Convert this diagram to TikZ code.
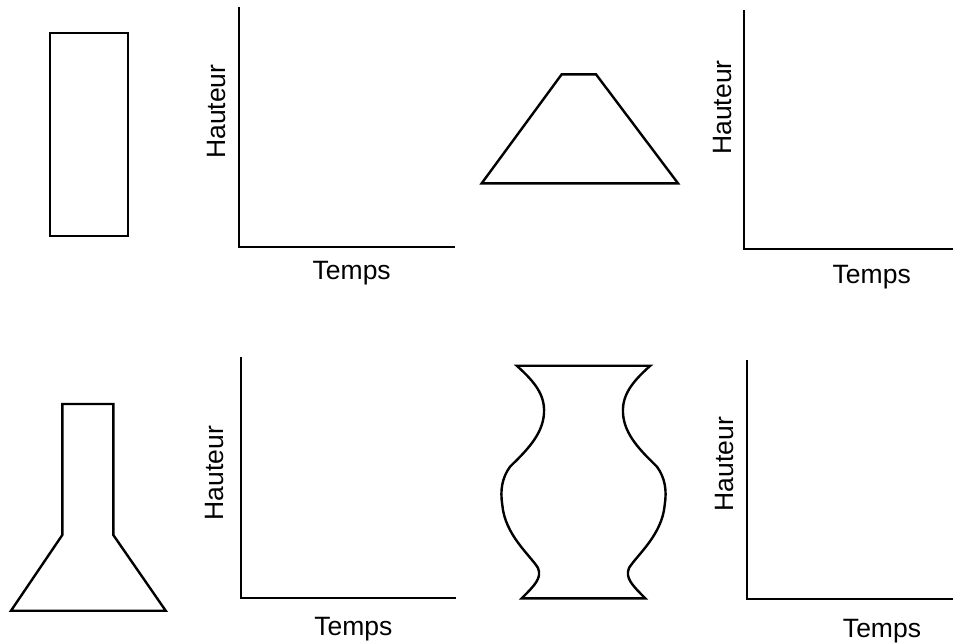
\documentclass[tikz,border=0pt]{standalone}
\usepackage{fontspec}
\setmainfont{Liberation Sans}
\begin{document}
\begin{tikzpicture}[x=1pt,y=-1pt,
  shape line/.style={line width=2.4pt, line join=miter},
  axis line/.style={line width=2.3pt},
  lab/.style={font=\fontsize{26.5}{30}\selectfont, inner sep=0pt, anchor=base},
  vlab/.style={lab, rotate=90}]
\useasboundingbox (0,0) rectangle (953,643);
% container 1: rectangle
\draw[shape line] (50,32.7) rectangle (127.7,236);
% graph 1
\draw[axis line] (239.3,6.7) -- (239.3,247.3) -- (455,247.3);
\node[vlab] (h1) at (225,111.7) {Hauteur};
\node[lab] (t1) at (351.7,279.3) {Temps};
% container 2: trapezoid
\draw[shape line] (561.7,74.3) -- (596,74.3) -- (678,183.3) -- (481.7,183.3) -- cycle;
% graph 2
\draw[axis line] (744,10) -- (744,249.3) -- (953,249.3);
\node[vlab] (h2) at (731.7,107.5) {Hauteur};
\node[lab] (t2) at (871.7,283.3) {Temps};
% container 3: flask
\draw[shape line] (62.3,404) -- (113.3,404) -- (113.3,535) -- (165.7,610.7) -- (11,610.7) -- (62.3,535) -- cycle;
% graph 3
\draw[axis line] (240.7,357.3) -- (240.7,598.3) -- (456,598.3);
\node[vlab] (h3) at (223.3,473) {Hauteur};
\node[lab] (t3) at (353.3,635) {Temps};
% container 4: vase
\draw[shape line] (516.7,365.7) -- (650.3,365.7)
  .. controls (632,382) and (622,395) .. (623,413)
  .. controls (624,435) and (642,452) .. (657,466.7)
  .. controls (665,478) and (667,490) .. (664.7,505)
  .. controls (662,535) and (637,555) .. (629,568)
  .. controls (625,578) and (632,585) .. (645.3,598.3)
  -- (521.7,598.3)
  .. controls (535,585) and (542,578) .. (538,568)
  .. controls (530,555) and (505,535) .. (502.3,505)
  .. controls (500,490) and (502,478) .. (510,466.7)
  .. controls (525,452) and (543,435) .. (544,413)
  .. controls (545,395) and (535,382) .. (516.7,365.7) -- cycle;
% graph 4
\draw[axis line] (747.3,360) -- (747.3,599.3) -- (953,599.3);
\node[vlab] (h4) at (733.3,464) {Hauteur};
\node[lab] (t4) at (882,637.7) {Temps};
\end{tikzpicture}
\end{document}
